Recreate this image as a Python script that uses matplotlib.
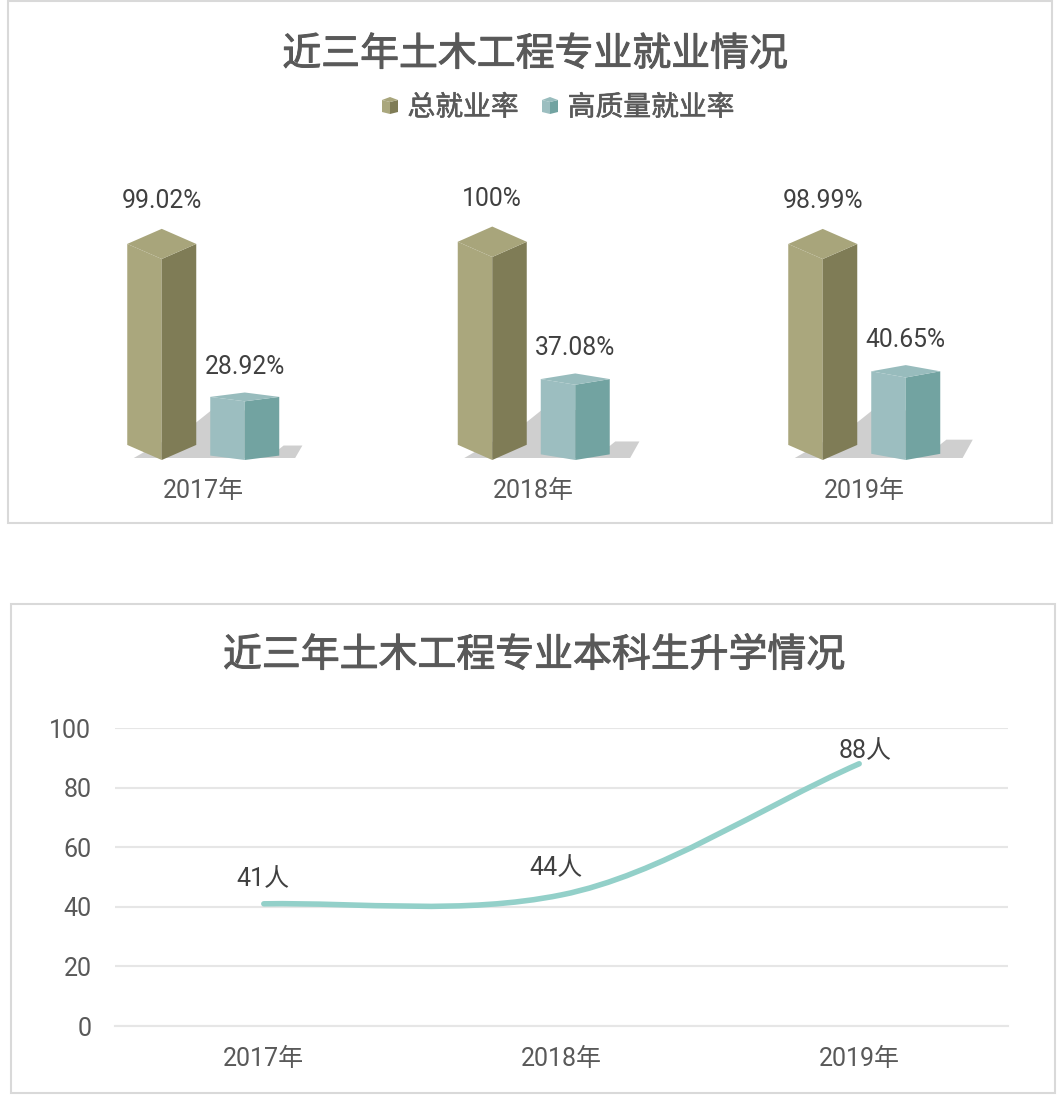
# plot.py - employment and further study charts
import matplotlib
matplotlib.use('Agg')
import matplotlib.pyplot as plt
import matplotlib.patheffects as pe
from matplotlib.patches import Polygon, Rectangle, PathPatch
from matplotlib.path import Path

plt.rcParams['font.family'] = ['Roboto', 'Noto Sans CJK SC', 'DejaVu Sans']

# DATA
years = ['2017年', '2018年', '2019年']
total_rate = [99.02, 100, 98.99]
total_labels = ['99.02%', '100%', '98.99%']
quality_rate = [28.92, 37.08, 40.65]
quality_labels = ['28.92%', '37.08%', '40.65%']
students = [41, 44, 88]
students_labels = ['41人', '44人', '88人']
student_ticks = [0, 20, 40, 60, 80, 100]

W, H = 1060, 1099
GROUP_PX = 330.5    # pixels per category in the bar chart
UNIT_PX = 2.03      # pixels per percent in the bar chart
OLIVE = ('#aaa77d', '#7f7c56', '#a8a57b')
TEAL = ('#9cbec0', '#72a3a1', '#98bcbd')
SHADOW = '#cfcfcf'
TITLE_COLOR = '#595959'
LABEL_COLOR = '#404040'
GRID_COLOR = '#e6e6e6'
FRAME_COLOR = '#d9d9d9'


def axes_px(left, top, right, bottom):
    return fig.add_axes([left / W, 1 - bottom / H, (right - left) / W, (bottom - top) / H])


def fig_text(x, y, s, size, thicken, color=TITLE_COLOR):
    # no medium weight of the CJK font here, a thin stroke gets the same look
    fig.text(x / W, 1 - y / H, s, fontsize=size, color=color, ha='center', va='center',
             path_effects=[pe.withStroke(linewidth=thicken, foreground=color)])


def frame(left, top, right, bottom):
    fig.add_artist(Rectangle((left / W, 1 - bottom / H), (right - left) / W, (bottom - top) / H,
                             transform=fig.transFigure, fill=False, edgecolor=FRAME_COLOR, lw=1.5))


def draw_shadow(ax, xc, v):
    dx = lambda p: p / GROUP_PX
    dy = lambda p: p / UNIT_PX
    xl, xr = xc - dx(28), xc + dx(34.5)
    pts = [(xl, dy(2)), (xr + dx(0.55 * v), dy(2)), (xr + dx(0.8 * v), dy(0.5 * v)),
           (xr + dx(0.15 * v), dy(0.5 * v)), (xr, dy(0.38 * v))]
    ax.add_patch(Polygon(pts, closed=True, color=SHADOW, lw=0, zorder=1))


def draw_cuboid(ax, xc, v, colors, zorder=2):
    # front edge sits on xc; the depth grows with the height like in the perspective original
    hw = 34.5 / GROUP_PX
    d = 0.075 * v
    left, right, top = colors
    ax.add_patch(Polygon([(xc - hw, d), (xc, 0), (xc, v), (xc - hw, v + d)], color=left, lw=0, zorder=zorder))
    ax.add_patch(Polygon([(xc, 0), (xc + hw, d), (xc + hw, v + d), (xc, v)], color=right, lw=0, zorder=zorder))
    ax.add_patch(Polygon([(xc - hw, v + d), (xc, v), (xc + hw, v + d), (xc, v + 2 * d)],
                         color=top, lw=0, zorder=zorder))
    return v + 2 * d


def legend_marker(cx, cy, colors):
    s, dp = 8, 3
    pts = {
        0: [(cx - s, cy - 5), (cx, cy - 3), (cx, cy + 9), (cx - s, cy + 7)],
        1: [(cx, cy - 3), (cx + s, cy - 5), (cx + s, cy + 7), (cx, cy + 9)],
        2: [(cx - s, cy - 5), (cx, cy - 5 - dp), (cx + s, cy - 5), (cx, cy - 3)],
    }
    for i in range(3):
        fig.add_artist(Polygon([(x / W, 1 - y / H) for x, y in pts[i]], closed=True,
                               transform=fig.transFigure, color=colors[i], lw=0))


fig = plt.figure(figsize=(W / 100, H / 100), dpi=100, facecolor='white')
frame(8, 1, 1052, 523)
frame(11, 604, 1055, 1093)

# BAR CHART
fig_text(535, 55, '近三年土木工程专业就业情况', 28, 0.7)
legend_marker(390, 105, OLIVE)
fig_text(463, 108, '总就业率', 20, 0.4)
legend_marker(550, 105, TEAL)
fig_text(651, 108, '高质量就业率', 20, 0.4)

ax1 = axes_px(38, 160, 1029.5, 460)
ax1.set_xlim(-0.5, 2.5)
ax1.set_ylim(0, 300 / UNIT_PX)
offset = 41.5 / GROUP_PX
for i in range(len(years)):
    draw_shadow(ax1, i - offset, total_rate[i])
    draw_shadow(ax1, i + offset, quality_rate[i])
    top_a = draw_cuboid(ax1, i - offset, total_rate[i], OLIVE)
    top_b = draw_cuboid(ax1, i + offset, quality_rate[i], TEAL)
    ax1.annotate(total_labels[i], (i - offset, top_a), xytext=(0, 20), textcoords='offset points',
                 ha='center', va='center', fontsize=17.8, color=LABEL_COLOR, annotation_clip=False)
    ax1.annotate(quality_labels[i], (i + offset, top_b), xytext=(0, 18), textcoords='offset points',
                 ha='center', va='center', fontsize=17.8, color=LABEL_COLOR, annotation_clip=False)
ax1.set_xticks(range(len(years)))
ax1.set_xticklabels(years, fontsize=18, color=TITLE_COLOR)
ax1.tick_params(axis='x', length=0, pad=14)
ax1.set_yticks([])
ax1.patch.set_visible(False)
for spine in ax1.spines.values():
    spine.set_visible(False)

# LINE CHART
fig_text(534, 656, '近三年土木工程专业本科生升学情况', 28, 0.7)
ax2 = axes_px(115, 728, 1008, 1026)
ax2.set_xlim(-0.5, 2.5)
ax2.set_ylim(0, 100)
ax2.set_yticks(student_ticks)
ax2.set_xticks(range(len(years)))
ax2.set_xticklabels(years)
ax2.tick_params(axis='both', length=0, labelsize=18, labelcolor=TITLE_COLOR)
ax2.tick_params(axis='x', pad=15)
ax2.tick_params(axis='y', pad=17)
ax2.grid(axis='y', color=GRID_COLOR, lw=1.5)
ax2.set_axisbelow(True)
for name, spine in ax2.spines.items():
    spine.set_visible(name == 'bottom')
ax2.spines['bottom'].set_color(GRID_COLOR)
ax2.spines['bottom'].set_linewidth(1.5)

# smoothed line, bezier segments built from the points
n = len(students)
verts = [(0, students[0])]
for i in range(n - 1):
    # end segments aim straight at their neighbour, inner points share a tangent
    c1 = students[i] + (students[i + 1] - students[i - 1]) / 7 if i > 0 else students[i] + (students[i + 1] - students[i]) / 6
    c2 = students[i + 1] - (students[i + 2] - students[i]) / 7 if i + 2 < n else students[i + 1] - (students[i + 1] - students[i]) / 3
    verts += [(i + 1 / 3, c1), (i + 2 / 3, c2), (i + 1, students[i + 1])]
codes = [Path.MOVETO] + [Path.CURVE4] * (len(verts) - 1)
ax2.add_patch(PathPatch(Path(verts, codes), fill=False, edgecolor='#93d0c9', lw=4,
                        capstyle='round', zorder=3, clip_on=False))

label_offsets = [(-1, 18), (-4, 19), (4, 9)]
for i, lab in enumerate(students_labels):
    ax2.annotate(lab, (i, students[i]), xytext=label_offsets[i], textcoords='offset points',
                 ha='center', va='center', fontsize=18, color=LABEL_COLOR, annotation_clip=False, zorder=4)

fig.savefig('out.png', dpi=100)
